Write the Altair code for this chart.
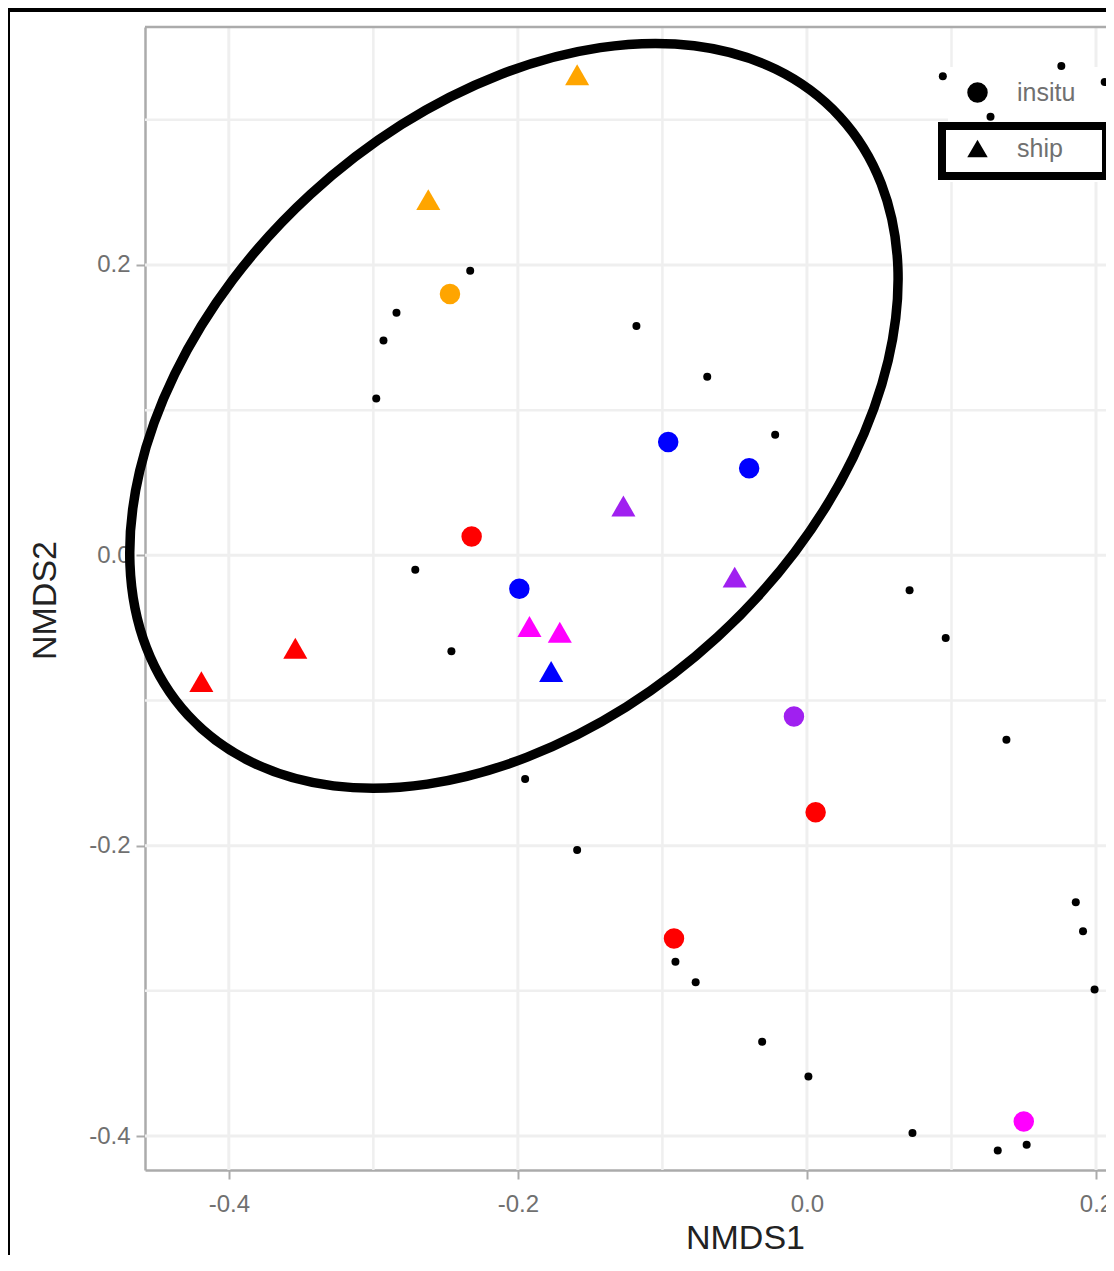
import altair as alt
import pandas as pd

# ---- coloured sample points (NMDS scores) ----
pt_x = [-0.159, -0.262, -0.247, -0.096, -0.040, -0.127, -0.050, -0.232, -0.199,
        -0.192, -0.171, -0.177, -0.354, -0.419, -0.009, 0.006, -0.092, 0.150]
pt_y = [0.331, 0.245, 0.180, 0.078, 0.060, 0.034, -0.015, 0.013, -0.023,
        -0.049, -0.053, -0.080, -0.064, -0.087, -0.111, -0.177, -0.264, -0.390]
pt_group = ["orange", "orange", "orange", "blue", "blue", "purple", "purple", "red", "blue",
            "magenta", "magenta", "blue", "red", "red", "purple", "red", "red", "magenta"]
pt_type = ["ship", "ship", "insitu", "insitu", "insitu", "ship", "ship", "insitu", "insitu",
           "ship", "ship", "ship", "ship", "ship", "insitu", "insitu", "insitu", "insitu"]

# ---- small black points ----
dot_x = [0.094, 0.176, 0.206, 0.127, -0.233, -0.284, -0.293, -0.298, -0.118, -0.069,
         -0.022, -0.271, -0.246, -0.195, -0.159, 0.071, 0.096, 0.138, 0.186, 0.191,
         0.199, -0.091, -0.077, -0.031, 0.001, 0.073, 0.132, 0.152]
dot_y = [0.330, 0.337, 0.326, 0.302, 0.196, 0.167, 0.148, 0.108, 0.158, 0.123,
         0.083, -0.010, -0.066, -0.154, -0.203, -0.024, -0.057, -0.127, -0.239, -0.259,
         -0.299, -0.280, -0.294, -0.335, -0.359, -0.398, -0.410, -0.406]

# ---- hand-drawn ellipse annotation (outline points) ----
ell_x = [0.0226, -0.0215, -0.0780, -0.1430, -0.2120, -0.2805, -0.3436, -0.3972,
         -0.4374, -0.4617, -0.4684, -0.4570, -0.4282, -0.3840, -0.3275, -0.2626,
         -0.1936, -0.1251, -0.0619, -0.0084, 0.0319, 0.0562, 0.0629, 0.0514]
ell_y = [0.3023, 0.3348, 0.3510, 0.3497, 0.3312, 0.2967, 0.2485, 0.1899,
         0.1249, 0.0580, -0.0063, -0.0637, -0.1102, -0.1426, -0.1588, -0.1576,
         -0.1390, -0.1045, -0.0563, 0.0022, 0.0673, 0.1342, 0.1985, 0.2559]

tick_vals = [-0.4, -0.2, 0.0, 0.2]
grid_x_major = [-0.4, -0.2, 0.0, 0.2]
grid_x_minor = [-0.3, -0.1, 0.1]
grid_y_major = [-0.4, -0.2, 0.0, 0.2]
grid_y_minor = [-0.3, -0.1, 0.1, 0.3]

type_names = ["insitu", "ship"]
type_shapes = ["circle", "triangle-up"]
group_names = ["orange", "blue", "purple", "red", "magenta"]
group_colors = ["#FFA500", "#0000FF", "#A020F0", "#FF0000", "#FF00FF"]

X_DOM = [-0.458, 0.2069]
Y_DOM = [-0.4234, 0.3639]
W, H = 961, 1143
FONT = "Liberation Sans"
GRAY_TXT = "#707070"
BORDER = "#ABABAB"

xs = alt.Scale(domain=X_DOM, nice=False, zero=False)
ys = alt.Scale(domain=Y_DOM, nice=False, zero=False)
lab_expr = "replace(format(datum.value, '.1f'), '\u2212', '-')"

xaxis = alt.Axis(values=tick_vals, labelExpr=lab_expr, grid=False,
                 domainColor=BORDER, domainWidth=2.5, tickColor=BORDER, tickWidth=2, tickSize=9,
                 labelFont=FONT, labelFontSize=24, labelColor=GRAY_TXT, labelPadding=13,
                 labelBaseline="top",
                 title="NMDS1", titleFont=FONT, titleFontSize=34, titleColor="#222222",
                 titleFontWeight="normal", titleX=600, titleY=68, titleBaseline="middle",
                 titleAlign="center")
yaxis = alt.Axis(values=tick_vals, labelExpr=lab_expr, grid=False,
                 domainColor=BORDER, domainWidth=2.5, tickColor=BORDER, tickWidth=2, tickSize=9,
                 labelFont=FONT, labelFontSize=24, labelColor=GRAY_TXT, labelPadding=6,
                 title="NMDS2", titleFont=FONT, titleFontSize=34, titleColor="#222222",
                 titleFontWeight="normal", titleX=-100, titleY=573, titleAngle=270,
                 titleBaseline="middle", titleAlign="center")

X = lambda: alt.X("x:Q", scale=xs, axis=xaxis)
Y = lambda: alt.Y("y:Q", scale=ys, axis=yaxis)

one = alt.Data(values=[{"a": 0}])

gx = pd.DataFrame({"x": grid_x_major + grid_x_minor,
                   "k": ["major"] * len(grid_x_major) + ["minor"] * len(grid_x_minor)})
gy = pd.DataFrame({"y": grid_y_major + grid_y_minor,
                   "k": ["major"] * len(grid_y_major) + ["minor"] * len(grid_y_minor)})
gw = alt.Scale(domain=["major", "minor"], range=[3, 2.5])

grid_v = alt.Chart(gx).mark_rule(color="#EFEFEF").encode(
    x=X(), strokeWidth=alt.StrokeWidth("k:N", scale=gw, legend=None))
grid_h = alt.Chart(gy).mark_rule(color="#EFEFEF").encode(
    y=Y(), strokeWidth=alt.StrokeWidth("k:N", scale=gw, legend=None))

legend_bg = alt.Chart(one).mark_rect(color="white").encode(
    x=alt.value(803), x2=alt.value(961), y=alt.value(40), y2=alt.value(155))

shape_legend = alt.Legend(title=None, orient="none", legendX=820, legendY=53,
                          symbolFillColor="black", symbolStrokeColor="black",
                          symbolStrokeWidth=0, symbolSize=420, symbolOpacity=1,
                          labelFont=FONT, labelFontSize=25, labelColor=GRAY_TXT,
                          labelOffset=27, rowPadding=30, padding=0)

pts = pd.DataFrame({"x": pt_x, "y": pt_y, "group": pt_group, "type": pt_type})


def point_layer(kind, size):
    return alt.Chart(pts).transform_filter(alt.datum.type == kind).mark_point(
        filled=True, opacity=1, size=size).encode(
        x=X(), y=Y(),
        color=alt.Color("group:N", scale=alt.Scale(domain=group_names, range=group_colors), legend=None),
        shape=alt.Shape("type:N", scale=alt.Scale(domain=type_names, range=type_shapes),
                        legend=shape_legend))


circles = point_layer("insitu", 420)
triangles = point_layer("ship", 580)

dots = alt.Chart(pd.DataFrame({"x": dot_x, "y": dot_y})).mark_circle(
    size=64, color="black", opacity=1).encode(x=X(), y=Y())

ell = pd.DataFrame({"x": ell_x, "y": ell_y, "i": list(range(len(ell_x)))})
ellipse = alt.Chart(ell).mark_line(color="black", strokeWidth=9.5, interpolate="cardinal-closed").encode(
    x=X(), y=Y(), order="i:O")

box = alt.Chart(one).mark_rect(fill=None, fillOpacity=0, stroke="black", strokeWidth=8).encode(
    x=alt.value(797), x2=alt.value(961), y=alt.value(99), y2=alt.value(149))

top_border = alt.Chart(one).mark_rule(color=BORDER, strokeWidth=2.5).encode(
    x=alt.value(0), x2=alt.value(W), y=alt.value(0))

frame_top = alt.Chart(one).mark_rect(color="black").encode(
    x=alt.value(-137), x2=alt.value(W), y=alt.value(-19), y2=alt.value(-15))
frame_left = alt.Chart(one).mark_rect(color="black").encode(
    x=alt.value(-137), x2=alt.value(-135), y=alt.value(-19), y2=alt.value(1230))

chart = alt.layer(grid_v, grid_h, legend_bg, circles, triangles, dots, ellipse, box, top_border,
                  frame_top, frame_left).properties(
    width=W, height=H,
    autosize=alt.AutoSizeParams(type="none"),
    padding={"left": 137, "top": 19, "right": 0, "bottom": 85},
    background="white",
).configure_view(stroke=None)

chart.save("out.html", embed_options={"renderer": "svg", "actions": False})
